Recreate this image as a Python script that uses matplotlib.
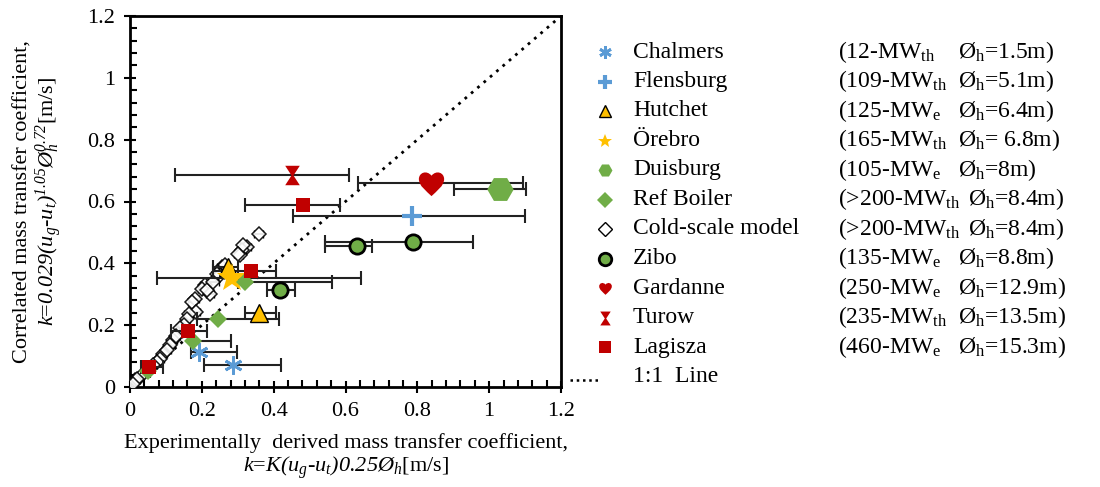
import numpy as np
import matplotlib
matplotlib.use("Agg")
import matplotlib.pyplot as plt
from matplotlib.path import Path

plt.rcParams["font.family"] = ["Liberation Serif", "DejaVu Serif"]
plt.rcParams["mathtext.fontset"] = "custom"
plt.rcParams["mathtext.rm"] = "Liberation Serif"
plt.rcParams["mathtext.it"] = "Liberation Serif:italic"
# italic font slot that also keeps digits italic
plt.rcParams["mathtext.cal"] = "Liberation Serif:italic"

chalmers_x = [0.192, 0.288]
chalmers_y = [0.113, 0.070]
chalmers_lo = [0.170, 0.207]
chalmers_hi = [0.299, 0.420]

flensburg_x = [0.785]
flensburg_y = [0.552]
flensburg_lo = [0.453]
flensburg_hi = [1.100]

hutchet_x = [0.274, 0.358]
hutchet_y = [0.389, 0.239]
hutchet_lo = [0.232, 0.321]
hutchet_hi = [0.300, 0.407]

orebro_x = [0.285]
orebro_y = [0.352]
orebro_lo = [0.074]
orebro_hi = [0.643]

duisburg_x = [1.031]
duisburg_y = [0.640]
duisburg_lo = [0.903]
duisburg_hi = [1.103]

refboiler_x = [0.050, 0.175, 0.245, 0.320]
refboiler_y = [0.052, 0.150, 0.219, 0.341]
refboiler_lo = [0.045, 0.169, 0.186, 0.300]
refboiler_hi = [0.055, 0.280, 0.416, 0.562]

cold_x = [0.358, 0.326, 0.312, 0.307, 0.316, 0.256, 0.247, 0.251, 0.242, 0.209,
          0.200, 0.223, 0.214, 0.181, 0.172, 0.184, 0.163, 0.158, 0.149, 0.135,
          0.121, 0.112, 0.093, 0.084, 0.074, 0.065, 0.028, 0.014, 0.019, 0.009,
          0.140, 0.128, 0.102, 0.232, 0.265, 0.300]
cold_y = [0.496, 0.453, 0.442, 0.426, 0.458, 0.388, 0.372, 0.361, 0.367, 0.329,
          0.318, 0.302, 0.313, 0.286, 0.275, 0.243, 0.237, 0.221, 0.199, 0.173,
          0.151, 0.135, 0.108, 0.092, 0.081, 0.070, 0.032, 0.022, 0.027, 0.011,
          0.190, 0.165, 0.120, 0.340, 0.395, 0.430]
cold_err = [0.012, 0.010, 0.012, 0.008, 0.010, 0.015, 0.012, 0.010, 0.012, 0.015,
            0.010, 0.012, 0.010, 0.012, 0.010, 0.010, 0.012, 0.010, 0.012, 0.010,
            0.010, 0.012, 0.010, 0.012, 0.010, 0.010, 0.008, 0.008, 0.008, 0.006,
            0.012, 0.010, 0.012, 0.015, 0.012, 0.010]

zibo_x = [0.419, 0.631, 0.787]
zibo_y = [0.313, 0.456, 0.470]
zibo_lo = [0.381, 0.544, 0.544]
zibo_hi = [0.459, 0.675, 0.956]

gardanne_x = [0.838]
gardanne_y = [0.659]
gardanne_lo = [0.634]
gardanne_hi = [1.094]

turow_x = [0.451]
turow_y = [0.685]
turow_lo = [0.126]
turow_hi = [0.609]

lagisza_x = [0.052, 0.162, 0.337, 0.481]
lagisza_y = [0.066, 0.182, 0.375, 0.589]
lagisza_lo = [0.031, 0.113, 0.231, 0.321]
lagisza_hi = [0.092, 0.213, 0.407, 0.586]

line_1to1 = [0, 1.2]

names = ["Chalmers", "Flensburg", "Hutchet", "Örebro", "Duisburg", "Ref Boiler",
         "Cold-scale model", "Zibo", "Gardanne", "Turow", "Lagisza"]
powers = [r"(12-MW$_{\mathrm{th}}$", r"(109-MW$_{\mathrm{th}}$", r"(125-MW$_{\mathrm{e}}$",
          r"(165-MW$_{\mathrm{th}}$", r"(105-MW$_{\mathrm{e}}$", r"(>200-MW$_{\mathrm{th}}$",
          r"(>200-MW$_{\mathrm{th}}$", r"(135-MW$_{\mathrm{e}}$", r"(250-MW$_{\mathrm{e}}$",
          r"(235-MW$_{\mathrm{th}}$", r"(460-MW$_{\mathrm{e}}$"]
diams = [r"Ø$_{\mathrm{h}}$=1.5m)", r"Ø$_{\mathrm{h}}$=5.1m)", r"Ø$_{\mathrm{h}}$=6.4m)",
         r"Ø$_{\mathrm{h}}$= 6.8m)", r"Ø$_{\mathrm{h}}$=8m)", r"Ø$_{\mathrm{h}}$=8.4m)",
         r"Ø$_{\mathrm{h}}$=8.4m)", r"Ø$_{\mathrm{h}}$=8.8m)", r"Ø$_{\mathrm{h}}$=12.9m)",
         r"Ø$_{\mathrm{h}}$=13.5m)", r"Ø$_{\mathrm{h}}$=15.3m)"]

# custom markers
heart = Path([(0, -1), (-0.4, -0.6), (-1, -0.2), (-1, 0.35),
              (-1, 0.85), (-0.4, 1.1), (0, 0.62),
              (0.4, 1.1), (1, 0.85), (1, 0.35),
              (1, -0.2), (0.4, -0.6), (0, -1), (0, -1)],
             [Path.MOVETO] + [Path.CURVE4] * 12 + [Path.CLOSEPOLY])
hourglass = Path([(-0.75, 1), (0.75, 1), (0.1, 0), (0.75, -1), (-0.75, -1), (-0.1, 0), (-0.75, 1)],
                 [Path.MOVETO] + [Path.LINETO] * 5 + [Path.CLOSEPOLY])

blue = "#5B9BD5"
gold = "#FFC000"
green = "#70AD47"
red = "#C00000"

series = [
    (chalmers_x, chalmers_y, chalmers_lo, chalmers_hi,
     dict(marker=(6, 2, 0), color=blue, ms=13, mew=2), dict(ms=9, mew=2)),
    (flensburg_x, flensburg_y, flensburg_lo, flensburg_hi,
     dict(marker="+", color=blue, ms=14, mew=3), dict(ms=10, mew=3)),
    (hutchet_x, hutchet_y, hutchet_lo, hutchet_hi,
     dict(marker="^", mfc=gold, mec="black", ms=13, mew=1), dict(ms=9, mew=1)),
    (orebro_x, orebro_y, orebro_lo, orebro_hi,
     dict(marker="*", color=gold, ms=22, mew=0), dict(ms=10, mew=0)),
    (duisburg_x, duisburg_y, duisburg_lo, duisburg_hi,
     dict(marker="H", color=green, ms=19, mew=0), dict(ms=10, mew=0)),
    (refboiler_x, refboiler_y, refboiler_lo, refboiler_hi,
     dict(marker="D", color=green, ms=9, mew=0), dict(ms=8, mew=0)),
    (zibo_x, zibo_y, zibo_lo, zibo_hi,
     dict(marker="o", mfc=green, mec="black", ms=11, mew=2), dict(ms=9, mew=2)),
    (gardanne_x, gardanne_y, gardanne_lo, gardanne_hi,
     dict(marker=heart, color=red, ms=20, mew=0), dict(ms=10, mew=0)),
    (turow_x, turow_y, turow_lo, turow_hi,
     dict(marker=hourglass, color=red, ms=14, mew=0), dict(ms=10, mew=0)),
    (lagisza_x, lagisza_y, lagisza_lo, lagisza_hi,
     dict(marker="s", color=red, ms=10, mew=0), dict(ms=9, mew=0)),
]

fig = plt.figure(figsize=(11, 4.87), dpi=100)
ax = fig.add_axes([130 / 1100, 1 - 387 / 487, 431 / 1100, 371 / 487])

ax.plot(line_1to1, line_1to1, ls=(0, (1, 2)), color="black", lw=2, zorder=1)

# cold-scale model: open diamonds with small bars
ax.errorbar(cold_x, cold_y, xerr=cold_err, fmt="none", ecolor="black",
            elinewidth=1.2, capsize=3, zorder=2)
ax.plot(cold_x, cold_y, ls="none", marker="D", mfc="white", mec="black",
        ms=7.5, mew=1.1, alpha=0.9, zorder=3)

for x, y, lo, hi, st, _ in series:
    x = np.array(x)
    err = [x - np.array(lo), np.array(hi) - x]
    ax.errorbar(x, y, xerr=err, fmt="none", ecolor="#222222", elinewidth=1.5,
                capsize=5, capthick=1.5, zorder=4)
    ax.plot(x, y, ls="none", zorder=5, **st)

ax.set_xlim(0, 1.2)
ax.set_ylim(0, 1.2)
ax.set_xticks(np.arange(0, 1.21, 0.2))
ax.set_yticks(np.arange(0, 1.21, 0.2))
ax.set_xticklabels(["0", "0.2", "0.4", "0.6", "0.8", "1", "1.2"])
ax.set_yticklabels(["0", "0.2", "0.4", "0.6", "0.8", "1", "1.2"])
ax.set_xticks(np.arange(0, 1.21, 0.04), minor=True)
ax.set_yticks(np.arange(0, 1.21, 0.04), minor=True)
ax.tick_params(which="major", direction="inout", length=9, width=1.5,
               labelsize=16, pad=6, colors="black")
ax.tick_params(which="minor", direction="in", length=5, width=1.5)
for sp in ax.spines.values():
    sp.set_linewidth(2)

ax.set_xlabel("Experimentally  derived mass transfer coefficient,\n"
              r"$\mathcal{k}$=$\mathcal{K(u_g}$-$\mathcal{u_t)0.25Ø_h}$[m/s]",
              fontsize=16, labelpad=9, linespacing=1.1)
ax.set_ylabel("Correlated mass transfer coefficient,\n"
              r"$\mathcal{k}$=$\mathcal{0.029(u_g}$-$\mathcal{u_t)^{1.05}Ø_h^{0.72}}$[m/s]",
              fontsize=16, labelpad=16, linespacing=1.05)

# legend drawn on an overlay in pixel units
lg = fig.add_axes([0, 0, 1, 1], facecolor="none")
lg.set_xlim(0, 1100)
lg.set_ylim(487, 0)
lg.axis("off")

legend_styles = [(s[4], s[5]) for s in series]
cold_leg = (dict(marker="D", mfc="white", mec="black"), dict(ms=7, mew=1))
legend_styles.insert(6, cold_leg)

for i, name in enumerate(names):
    yy = 52 + 29.5 * i
    st, lst = legend_styles[i]
    st = dict(st)
    st.update(lst)
    lg.plot([605], [yy], ls="none", **st)
    lg.text(633, yy, name, fontsize=17, va="center", ha="left")
    lg.text(838, yy, powers[i], fontsize=17, va="center", ha="left")
    dx = 968 if "200" in powers[i] else 958
    lg.text(dx, yy, diams[i], fontsize=17, va="center", ha="left")

yy = 52 + 29.5 * 11
lg.plot([570, 598], [yy + 3, yy + 3], ls=(0, (1, 1.5)), color="black", lw=1.8)
lg.text(633, yy, "1:1  Line", fontsize=17, va="center", ha="left")

fig.savefig("out.png", dpi=100)
